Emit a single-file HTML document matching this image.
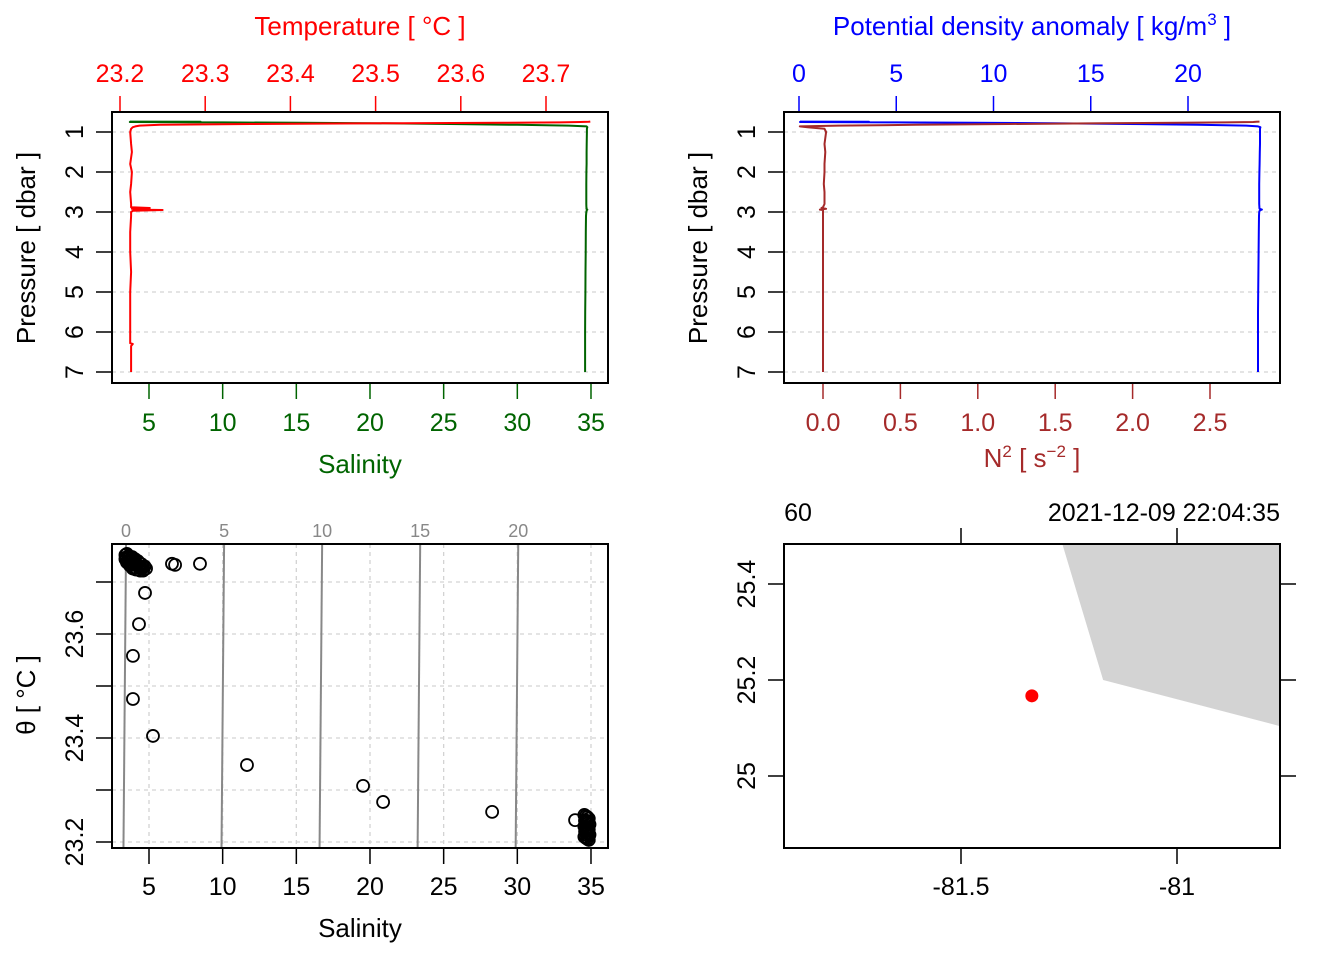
<!DOCTYPE html>
<html><head><meta charset="utf-8"><style>
html,body{margin:0;padding:0;background:#fff}
svg{display:block;font-family:"Liberation Sans",Arial,sans-serif}
</style></head><body>
<svg id="c" width="1344" height="960" viewBox="0 0 1344 960" xmlns="http://www.w3.org/2000/svg"></svg>
<script>
// ---- data ----
const profP = [0.74,0.745,0.75,0.76,0.77,0.78,0.80,0.82,0.84,0.86,0.88,0.92,1.0,1.3,1.5,1.8,2.0,2.3,2.5,2.8,2.88,2.9,2.92,2.94,2.95,2.97,3.0,3.1,3.5,4,4.5,5,5.5,6,6.28,6.3,6.35,7];
const profT = [23.752,23.75,23.74,23.716,23.65,23.529,23.353,23.247,23.223,23.218,23.215,23.213,23.212,23.213,23.214,23.212,23.214,23.213,23.212,23.213,23.213,23.235,23.214,23.22,23.25,23.215,23.213,23.213,23.212,23.212,23.213,23.212,23.212,23.212,23.212,23.215,23.213,23.213];
const profS = [3.7,8.5,3.7,10,15.3,20,25.4,30,33.5,34.7,34.75,34.72,34.72,34.71,34.7,34.7,34.69,34.68,34.68,34.68,34.69,34.7,34.69,34.75,34.72,34.7,34.68,34.66,34.65,34.64,34.63,34.62,34.61,34.6,34.6,34.6,34.6,34.6];
const profSig = [0.05,3.6,0.05,5,9,13,17,20.5,23,23.6,23.72,23.70,23.70,23.70,23.69,23.68,23.67,23.66,23.66,23.66,23.67,23.67,23.68,23.8,23.72,23.68,23.66,23.65,23.64,23.63,23.62,23.61,23.6,23.6,23.6,23.6,23.6,23.6];
const profN2 = [2.82,2.8,2.78,2.6,2.3,1.8,1.2,0.6,0.1,-0.15,-0.1,0.01,0.02,0.01,0.015,0.01,0.01,0.005,0.01,0.01,0.0,-0.01,0.02,-0.02,0.0,0.0,0.0,0.0,0.0,0.0,0.0,0.0,0.0,0.0,0.0,0.0,0.0,0.0];
const tsS = [3.4,3.5,3.6,3.7,3.8,3.9,4.0,4.1,4.2,4.3,4.4,4.5,4.6,4.7,3.4,3.6,3.8,4.0,4.2,4.4,4.6,4.8,3.5,3.7,3.9,4.1,4.3,4.5,3.45,3.65,3.85,4.05,4.25,
 6.56,6.77,8.46,4.73,4.32,3.91,3.91,5.27,11.65,19.53,20.89,28.29,33.92,
 34.55,34.65,34.75,34.85,34.6,34.7,34.8,34.9,34.55,34.65,34.75,34.85,34.6,34.7,34.8,34.9,34.55,34.65,34.75,34.85,34.6,34.7,34.8];
const tsT = [23.752,23.754,23.75,23.748,23.745,23.742,23.74,23.736,23.733,23.73,23.728,23.726,23.728,23.73,23.744,23.74,23.735,23.728,23.724,23.722,23.722,23.726,23.738,23.732,23.726,23.724,23.738,23.734,23.747,23.746,23.748,23.744,23.74,
 23.735,23.733,23.735,23.679,23.619,23.558,23.475,23.404,23.348,23.308,23.277,23.258,23.242,
 23.252,23.25,23.248,23.245,23.24,23.238,23.236,23.234,23.23,23.228,23.226,23.224,23.22,23.218,23.216,23.214,23.21,23.208,23.206,23.204,23.242,23.222,23.212];
const isoSig = [0,5,10,15,20];
const stationLon = [-81.336];
const stationLat = [25.167];
const coastLon = [-81.271,-81.171,-80.762,-80.762];
const coastLat = [25.5,25.2,25.104,25.5];

// ---- helpers ----
const svg=document.getElementById('c');
const NS='http://www.w3.org/2000/svg';
function el(tag,attrs,parent){const e=document.createElementNS(NS,tag);for(const k in attrs)e.setAttribute(k,attrs[k]);(parent||svg).appendChild(e);return e;}
function txt(s,x,y,opt,name){opt=opt||{};const t=el('text',{x:x,y:y,'font-size':opt.fs||25,'text-anchor':opt.anchor||'middle',fill:opt.fill||'#000'});if(opt.rot)t.setAttribute('transform','rotate(-90 '+x+' '+y+')');t.innerHTML=s;


return t;}
function line(x1,y1,x2,y2,st,name){const l=el('line',{x1:x1,y1:y1,x2:x2,y2:y2,stroke:st.c||'#000','stroke-width':st.w||1.5});if(st.d)l.setAttribute('stroke-dasharray',st.d);


return l;}
function poly(xs,ys,col,w,name){const pts=xs.map((x,i)=>x.toFixed(1)+','+ys[i].toFixed(1)).join(' ');const p=el('polyline',{points:pts,fill:'none',stroke:col,'stroke-width':w||2,'stroke-linejoin':'round'});


return p;}
function box(x,y,w,h,name){const r=el('rect',{x:x,y:y,width:w,height:h,fill:'none',stroke:'#000','stroke-width':2});

}

// ---- panel 1: T/S profile ----
const pY=p=>132+(p-1)*40;
const tX=t=>120+(t-23.2)*852;
const sX=s=>149+(s-5)*14.733;
for(let p=1;p<=7;p++){line(112,pY(p),608,pY(p),{c:'#d3d3d3',d:'4,4',w:1.3},'grid-pressure');line(96,pY(p),112,pY(p),{},'tick-pressure');txt(String(p),83,pY(p),{rot:1},'pressure-tick-label');}
txt('Pressure [ dbar ]',35,248,{rot:1,fs:26},'y-axis-title');
[23.2,23.3,23.4,23.5,23.6,23.7].forEach(t=>{line(tX(t),96,tX(t),112,{c:'red'},'tick-temperature');txt(t.toFixed(1),tX(t),82,{fill:'red'},'temperature-tick-label');});
txt('Temperature [ °C ]',360,35,{fill:'red',fs:26},'temperature-axis-title');
[5,10,15,20,25,30,35].forEach(s=>{line(sX(s),383,sX(s),399,{c:'darkgreen'},'tick-salinity');txt(String(s),sX(s),431,{fill:'darkgreen'},'salinity-tick-label');});
txt('Salinity',360,473,{fill:'darkgreen',fs:26},'salinity-axis-title');
poly(profS.map(sX),profP.map(pY),'darkgreen',2,'salinity-profile');
poly(profT.map(tX),profP.map(pY),'red',2,'temperature-profile');
box(112,112,496,271,'profile-panel-frame');

// ---- panel 2: sigma / N2 ----
const gX=s=>799+s*19.45;
const nX=n=>823+n*154.8;
for(let p=1;p<=7;p++){line(784,pY(p),1280,pY(p),{c:'#d3d3d3',d:'4,4',w:1.3},'grid-pressure');line(768,pY(p),784,pY(p),{},'tick-pressure');txt(String(p),755,pY(p),{rot:1},'pressure-tick-label');}
txt('Pressure [ dbar ]',707,248,{rot:1,fs:26},'y-axis-title');
[0,5,10,15,20].forEach(s=>{line(gX(s),96,gX(s),112,{c:'blue'},'tick-sigma');txt(String(s),gX(s),82,{fill:'blue'},'sigma-tick-label');});
txt('Potential density anomaly [ kg/m<tspan font-size="17" dy="-10">3</tspan><tspan dy="10"> ]</tspan>',1032,35,{fill:'blue',fs:26},'sigma-axis-title');
[0,0.5,1,1.5,2,2.5].forEach(n=>{line(nX(n),383,nX(n),399,{c:'#A52A2A'},'tick-n2');txt(n.toFixed(1),nX(n),431,{fill:'#A52A2A'},'n2-tick-label');});
txt('N<tspan font-size="17" dy="-10">2</tspan><tspan dy="10"> [ s</tspan><tspan font-size="17" dy="-10">−2</tspan><tspan dy="10"> ]</tspan>',1032,467,{fill:'#A52A2A',fs:26},'n2-axis-title');
poly(profSig.map(gX),profP.map(pY),'blue',2,'sigma-profile');
poly(profN2.map(nX),profP.map(pY),'#A52A2A',2,'n2-profile');
box(784,112,496,271,'density-panel-frame');

// ---- panel 3: TS diagram ----
const tY=t=>842-(t-23.2)*520;
[5,10,15,20,25,30,35].forEach(s=>line(sX(s),544,sX(s),848,{c:'#d3d3d3',d:'4,4',w:1.3},'grid-salinity'));
[23.2,23.3,23.4,23.5,23.6,23.7].forEach(t=>{line(112,tY(t),608,tY(t),{c:'#d3d3d3',d:'4,4',w:1.3},'grid-theta');line(96,tY(t),112,tY(t),{},'tick-theta');});
[23.2,23.4,23.6].forEach(t=>txt(t.toFixed(1),83,tY(t),{rot:1},'theta-tick-label'));
txt('θ [ °C ]',35,695,{rot:1,fs:26},'theta-axis-title');
const isoS=(sig,T)=>3.27+1.331*sig+0.3*(T-23.2);
isoSig.forEach(sig=>{const Ttop=23.2+(842-544)/520,Tb=23.2-(848-842)/520;
line(sX(isoS(sig,Ttop)),544,sX(isoS(sig,Tb)),848,{c:'#888',w:2},'isopycnal-line');
txt(String(sig),sX(isoS(sig,Ttop)),537,{fill:'#888',fs:18},'isopycnal-label');});
[5,10,15,20,25,30,35].forEach(s=>{line(sX(s),848,sX(s),864,{},'tick-salinity');txt(String(s),sX(s),895,{},'salinity-tick-label');});
txt('Salinity',360,937,{fs:26},'salinity-axis-title');
tsS.forEach((s,i)=>{const c=el('circle',{cx:sX(s),cy:tY(tsT[i]),r:6,fill:'none',stroke:'#000','stroke-width':1.8});

});
box(112,544,496,304,'ts-panel-frame');

// ---- panel 4: map ----
const lonX=l=>961+(l+81.5)*432;
const latY=l=>680-(l-25.2)*480;
const cp=el('clipPath',{id:'mc'});el('rect',{x:784,y:544,width:496,height:304},cp);
const land=el('polygon',{points:coastLon.map((l,i)=>lonX(l)+','+latY(coastLat[i])).join(' '),fill:'#d3d3d3',stroke:'none','clip-path':'url(#mc)'});


[-81.5,-81].forEach(l=>{line(lonX(l),848,lonX(l),864,{},'tick-lon');line(lonX(l),528,lonX(l),544,{},'tick-lon-top');txt(String(l),lonX(l),895,{},'lon-tick-label');});
[25.4,25.2,25].forEach(l=>{line(768,latY(l),784,latY(l),{},'tick-lat');line(1280,latY(l),1296,latY(l),{},'tick-lat-right');txt(String(l),755,latY(l),{rot:1},'lat-tick-label');});
stationLon.forEach((l,i)=>{const c=el('circle',{cx:lonX(l),cy:latY(stationLat[i]),r:6.5,fill:'red'});

});
txt('60',798,521,{},'station-id');
txt('2021-12-09 22:04:35',1280,521,{anchor:'end'},'station-time');
box(784,544,496,304,'map-panel-frame');
</script>
</body></html>
